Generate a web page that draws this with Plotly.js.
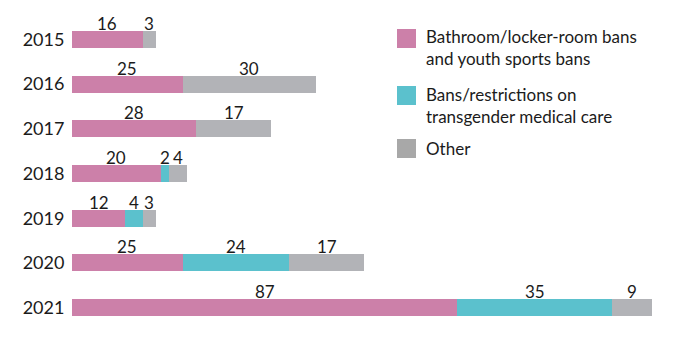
<!DOCTYPE html>
<html><head><meta charset="utf-8">
<script src="https://cdn.plot.ly/plotly-3.0.1.min.js"></script>
<style>html,body{margin:0;padding:0;background:#fff}#chart{width:680px;height:340px}</style>
</head><body><div id="chart"></div>
<script>
const years = ['2015','2016','2017','2018','2019','2020','2021'];
const bathroomSports = [16, 25, 28, 20, 12, 25, 87];
const medicalCare = [0, 0, 0, 2, 4, 24, 35];
const other = [3, 30, 17, 4, 3, 17, 9];
const seriesNames = ['Bathroom/locker-room bans<br>and youth sports bans', 'Bans/restrictions on<br>transgender medical care', 'Other'];
const colors = ['#cc80a9', '#5bc1cd', '#b2b3b7'];
const legendColors = ['#cc80a9', '#5bc1cd', '#a8a8a8'];

const series = [bathroomSports, medicalCare, other];
const font = 'Lato, "Open Sans", sans-serif';
const textColor = '#1b1b1b';

const traces = series.map((vals, i) => ({
  type: 'bar', orientation: 'h', y: years, x: vals, name: seriesNames[i],
  marker: {color: colors[i], line: {width: 0}}, hoverinfo: 'skip', showlegend: false
}));

const annotations = [];
years.forEach((yr, j) => {
  let base = 0;
  series.forEach(vals => {
    const v = vals[j];
    if (v > 0) {
      annotations.push({x: base + v / 2, y: j, xref: 'x', yref: 'y', text: String(v),
        showarrow: false, yshift: 16, font: {family: font, size: 17, color: textColor}});
    }
    base += v;
  });
});

// custom legend (paper coords: plot area x 72..680, y 17..330)
const px = p => (p - 72) / 608;
const py = p => (330 - p) / 313;
const swatchTops = [29, 86, 139];
const textCenters = [48, 105.5, 148];
const shapes = [];
swatchTops.forEach((t, i) => {
  shapes.push({type: 'rect', xref: 'paper', yref: 'paper', x0: px(397), x1: px(416), y0: py(t + 19), y1: py(t),
    fillcolor: legendColors[i], line: {width: 0}});
  annotations.push({xref: 'paper', yref: 'paper', x: px(424), y: py(textCenters[i]), xanchor: 'left', yanchor: 'middle',
    align: 'left', text: seriesNames[i], showarrow: false, font: {family: font, size: 17, color: textColor}});
});

const layout = {
  width: 680, height: 340, barmode: 'stack', bargap: 0.62,
  margin: {l: 72, r: 0, t: 17, b: 10},
  paper_bgcolor: '#fff', plot_bgcolor: '#fff',
  xaxis: {range: [0, 137.3], showgrid: false, zeroline: false, showticklabels: false, showline: false, fixedrange: true},
  yaxis: {type: 'category', range: [6.5, -0.5], showgrid: false, zeroline: false, showline: false,
    ticks: 'outside', ticklen: 3, tickcolor: 'rgba(0,0,0,0)',
    tickfont: {family: font, size: 18, color: textColor}},
  annotations: annotations, shapes: shapes, showlegend: false
};
Plotly.newPlot('chart', traces, layout, {displayModeBar: false, staticPlot: true});
</script></body></html>
